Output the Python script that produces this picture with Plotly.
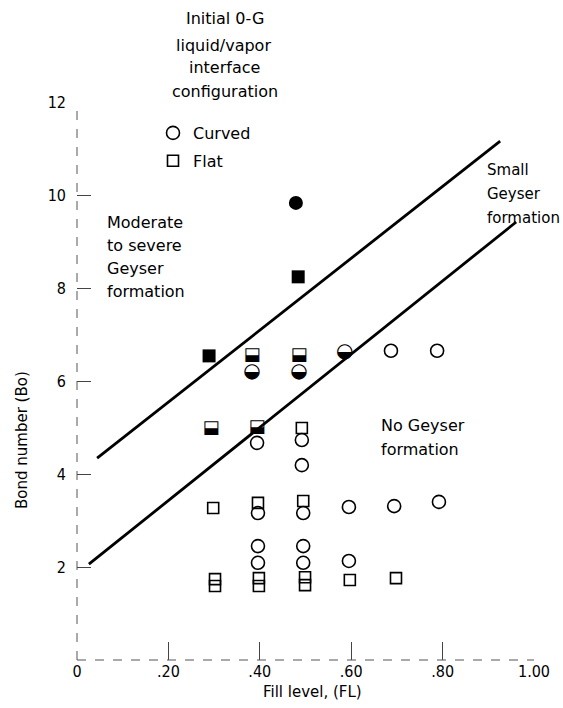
import plotly.graph_objects as go

W, H = 563, 708
L, R, T, B = 77, 29, 102, 48
FONT = "DejaVu Sans, Liberation Sans, sans-serif"
CFONT = "DejaVu Sans Condensed, DejaVu Sans, sans-serif"

# ---------------- data ----------------
# Open circles: curved interface, no geyser
curved_fl = [0.687, 0.788, 0.394, 0.492, 0.492, 0.396, 0.495, 0.595, 0.694, 0.792,
             0.396, 0.396, 0.495, 0.495, 0.595]
curved_bo = [6.65, 6.65, 4.67, 4.73, 4.19, 3.16, 3.16, 3.29, 3.31, 3.40,
             2.45, 2.09, 2.45, 2.09, 2.13]
# Open squares: flat interface, no geyser
flat_fl = [0.492, 0.298, 0.396, 0.495, 0.302, 0.302, 0.398, 0.398, 0.499, 0.499, 0.597, 0.698]
flat_bo = [4.99, 3.27, 3.38, 3.42, 1.74, 1.59, 1.76, 1.59, 1.78, 1.61, 1.72, 1.76]
# Filled symbols: moderate to severe geyser
full_circle_fl = [0.479]
full_circle_bo = [9.83]
full_square_fl = [0.484, 0.289]
full_square_bo = [8.24, 6.54]
# Half-filled symbols: small geyser
half_circle_fl = [0.383, 0.486, 0.586]
half_circle_bo = [6.19, 6.19, 6.62]
half_square_fl = [0.383, 0.486, 0.293, 0.394]
half_square_bo = [6.54, 6.54, 4.97, 4.99]
# Boundary lines
upper_fl = [0.044, 0.926]
upper_bo = [4.34, 11.16]
lower_fl = [0.026, 0.961]
lower_bo = [2.06, 9.42]

x_ticks = [0, 0.2, 0.4, 0.6, 0.8, 1.0]
x_ticktext = ["0", ".20", ".40", ".60", ".80", "1.00"]
y_ticks = [2, 4, 6, 8, 10, 12]
y_ticktext = ["2", "4", "6", "8", "10", "12"]

fig = go.Figure()

for fl, bo in ((upper_fl, upper_bo), (lower_fl, lower_bo)):
    fig.add_trace(go.Scatter(x=fl, y=bo, mode="lines", line=dict(color="black", width=2.8),
                             showlegend=False, hoverinfo="skip"))

fig.add_trace(go.Scatter(x=curved_fl, y=curved_bo, mode="markers", name="Curved",
                         legendgroup="a",
                         marker=dict(symbol="circle-open", size=13, color="black",
                                     line=dict(width=1.6, color="black"))))
fig.add_trace(go.Scatter(x=flat_fl, y=flat_bo, mode="markers", name="Flat",
                         legendgroup="b",
                         marker=dict(symbol="square-open", size=11, color="black",
                                     line=dict(width=1.6, color="black"))))
fig.add_trace(go.Scatter(x=full_circle_fl, y=full_circle_bo, mode="markers", showlegend=False,
                         marker=dict(symbol="circle", size=14, color="black")))
fig.add_trace(go.Scatter(x=full_square_fl, y=full_square_bo, mode="markers", showlegend=False,
                         marker=dict(symbol="square", size=13, color="black")))
fig.add_trace(go.Scatter(x=half_circle_fl, y=half_circle_bo, mode="text", text=["\u25D2"] * len(half_circle_fl),
                         textposition="middle center", showlegend=False,
                         textfont=dict(family="DejaVu Sans", size=20, color="black")))
fig.add_trace(go.Scatter(x=half_square_fl, y=half_square_bo, mode="text", text=["\u2B13"] * len(half_square_fl),
                         textposition="middle center", showlegend=False,
                         textfont=dict(family="DejaVu Sans", size=18, color="black")))

pw, ph = W - L - R, H - T - B


def pp(x, y):
    return (x - L) / pw, (H - B - y) / ph


annots = []


def txt(s, x, y, size=16, xanchor="center", angle=0, family=FONT):
    px, py = pp(x, y)
    annots.append(dict(text=s, x=px, y=py, xref="paper", yref="paper", showarrow=False,
                       xanchor=xanchor, yanchor="middle", textangle=angle,
                       font=dict(family=family, size=size, color="black")))


txt("Initial 0-G", 225, 19, 16)
txt("liquid/vapor", 223, 45, 16)
txt("interface", 224, 68, 16)
txt("configuration", 225, 92, 16)

for s, y in (("Moderate", 222), ("to severe", 245), ("Geyser", 268), ("formation", 291)):
    txt(s, 105, y, 16, "left")
for s, y in (("Small", 170), ("Geyser", 194), ("formation", 218)):
    txt(s, 485, y, 15, "left")
for s, y in (("No Geyser", 426), ("formation", 449)):
    txt(s, 379, y, 16, "left")

txt("Bond number (Bo)", 22, 440, 15, angle=-90)
txt("Fill level, (FL)", 312, 692, 15)

lx, ly = pp(153, 116)

shapes = [
    dict(type="line", xref="paper", yref="paper", x0=0, y0=0, x1=0, y1=1,
         line=dict(color="#555", width=1, dash="dash")),
    dict(type="line", xref="paper", yref="paper", x0=0, y0=0, x1=1, y1=0,
         line=dict(color="#555", width=1, dash="dash")),
]

fig.update_layout(
    width=W, height=H,
    margin=dict(l=L, r=R, t=T, b=B, pad=0),
    paper_bgcolor="white", plot_bgcolor="white",
    font=dict(family=FONT, size=15, color="black"),
    showlegend=True,
    shapes=shapes,
    legend=dict(x=lx, y=ly, xanchor="left", yanchor="top", bgcolor="rgba(0,0,0,0)",
                font=dict(family=FONT, size=16), tracegroupgap=4, traceorder="grouped",
                itemsizing="trace"),
    annotations=annots,
    xaxis=dict(range=[0, 1.0], tickvals=x_ticks, ticktext=x_ticktext, showgrid=False,
               zeroline=False, showline=False,
               ticks="inside", ticklen=18, tickcolor="#444", tickwidth=1,
               tickfont=dict(family=CFONT, size=16)),
    yaxis=dict(range=[0, 12], tickvals=y_ticks, ticktext=y_ticktext, showgrid=False,
               zeroline=False, showline=False,
               ticks="inside", ticklen=14, tickcolor="#444", tickwidth=1,
               ticklabelstandoff=10, tickfont=dict(family=CFONT, size=16)),
)

fig.write_html("out.html")
